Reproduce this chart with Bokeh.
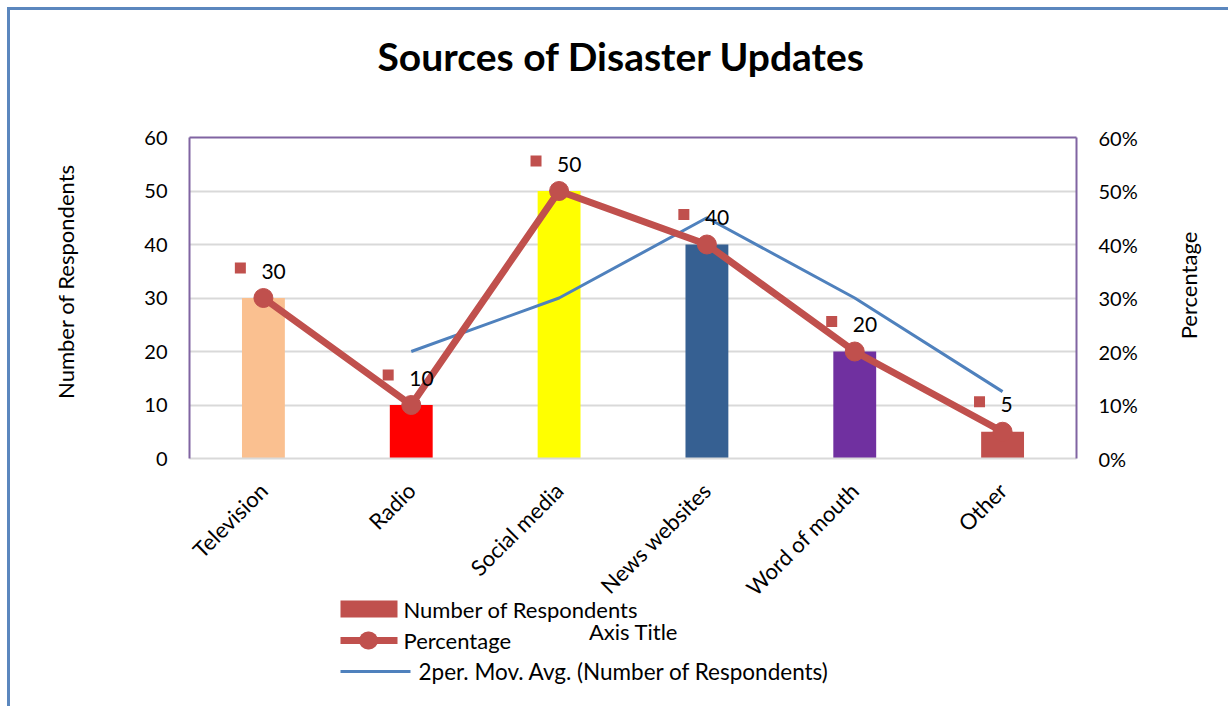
from math import pi
from bokeh.plotting import figure
from bokeh.models import (FactorRange, Range1d, LinearAxis, CategoricalAxis, NumeralTickFormatter,
                          FixedTicker, ColumnDataSource)
from bokeh.transform import dodge
from bokeh.core.properties import value
from bokeh.embed import file_html
from bokeh.resources import INLINE

# ---------------- data ----------------
title_text = "Sources of Disaster Updates"
categories = ["Television", "Radio", "Social media", "News websites", "Word of mouth", "Other"]
respondents = [30, 10, 50, 40, 20, 5]
percentage = [0.30, 0.10, 0.50, 0.40, 0.20, 0.05]
bar_colors = ["#FAC090", "#FF0000", "#FFFF00", "#366092", "#7030A0", "#C0504D"]
mov_avg_categories = ["Radio", "Social media", "News websites", "Word of mouth", "Other"]
mov_avg_values = [20, 30, 45, 30, 12.5]
left_ticks = [0, 10, 20, 30, 40, 50, 60]
right_ticks = [0.0, 0.1, 0.2, 0.3, 0.4, 0.5, 0.6]
left_axis_title = "Number of Respondents"
right_axis_title = "Percentage"
x_axis_title = "Axis Title"
legend_labels = ["Number of Respondents", "Percentage", "2per. Mov. Avg. (Number of Respondents)"]

FONT = "Lato"
RED = "#C0504D"
BLUE = "#4F81BD"
PURPLE = "#8064A2"
GRID = "#D9D9D9"

# frame geometry (window pixels) used to place texts that lie outside the plot area
FL, FR, FT, FB = 189, 1076, 137, 458
YMAX = 60
def dx(px):   # window x -> data x
    return (px - FL) / (FR - FL) * len(categories)
def dy(py):   # window y -> data y (left axis units)
    return (FB - py) / (FB - FT) * YMAX

src = ColumnDataSource(dict(cat=categories, count=respondents, pct=percentage,
                            color=bar_colors, label=[str(v) for v in respondents]))

p = figure(width=1221, height=699,
           x_range=FactorRange(*categories, range_padding=0),
           y_range=Range1d(0, YMAX),
           output_backend="svg", toolbar_location=None,
           min_border_left=FL - 10, min_border_right=1231 - FR,
           min_border_top=FT - 10, min_border_bottom=709 - FB)
p.styles = {"margin-left": "7px", "margin-top": "7px",
            "border-left": "3px solid #5B87BE", "border-top": "3px solid #5B87BE"}
p.extra_y_ranges = {"pct": Range1d(0, 0.6)}
p.outline_line_color = None
p.background_fill_color = "white"
p.border_fill_color = "white"
p.title.visible = False

xa = p.xaxis[0]
ya = p.yaxis[0]

p.xgrid.visible = False
p.ygrid.ticker = FixedTicker(ticks=left_ticks)
p.ygrid.grid_line_color = GRID
p.ygrid.grid_line_width = 2

ya.ticker = FixedTicker(ticks=left_ticks)
ya.axis_line_color = PURPLE
ya.axis_line_width = 2
ya.major_tick_line_color = None
ya.minor_tick_line_color = None
ya.major_label_standoff = 16
ya.major_label_text_font = FONT
ya.major_label_text_font_size = "20px"
ya.major_label_text_color = "black"

ra = LinearAxis(y_range_name="pct", ticker=FixedTicker(ticks=right_ticks),
                formatter=NumeralTickFormatter(format="0%"))
ra.axis_line_color = PURPLE
ra.axis_line_width = 2
ra.major_tick_line_color = None
ra.minor_tick_line_color = None
ra.major_label_standoff = 16
ra.major_label_text_font = FONT
ra.major_label_text_font_size = "20px"
ra.major_label_text_color = "black"
p.add_layout(ra, "right")

xa.axis_line_color = GRID
xa.axis_line_width = 2
xa.major_tick_line_color = None
xa.major_label_orientation = pi / 4
xa.major_label_standoff = 22
xa.major_label_text_font = FONT
xa.major_label_text_font_size = "22px"
xa.major_label_text_color = "black"

ta = CategoricalAxis()
ta.axis_line_color = PURPLE
ta.axis_line_width = 2
ta.major_tick_line_color = None
ta.major_label_text_color = None
ta.major_label_text_font_size = "1px"
ta.major_label_standoff = 0
p.add_layout(ta, "above")

# bars
p.vbar(x="cat", top="count", width=0.29, fill_color="color", line_color=None, source=src)

# moving average
p.line(mov_avg_categories, mov_avg_values, line_color=BLUE, line_width=3)

# percentage line
p.line(x="cat", y="pct", y_range_name="pct", source=src, line_color=RED, line_width=7)
p.scatter(x="cat", y="pct", y_range_name="pct", source=src, size=19,
          fill_color=RED, line_color=RED)

# data labels (legend key square + value)
p.scatter(x=dodge("cat", -0.156, range=p.x_range), y=dodge("pct", 0.056), y_range_name="pct",
          source=src, marker="square", size=11, fill_color=RED, line_color=None)
p.text(x="cat", y="pct", y_range_name="pct", source=src, text="label",
       x_offset=-2, y_offset=-27, text_align="left", text_baseline="middle",
       text_font=value(FONT), text_font_size="21px", text_color="black")

# texts outside the plot area (overlay level)
def txt(x, y, t, size="22px", angle=0, align="center", style="normal"):
    p.text(x=[x], y=[y], text=[t], angle=angle, text_align=align, text_baseline="middle",
           text_font=value(FONT), text_font_size=size, text_font_style=style,
           text_color="black", level="overlay")

txt(dx(621), dy(55), title_text, size="39px", style="bold")
txt(dx(65), dy(281), left_axis_title, angle=pi / 2)
txt(dx(1188), dy(285), right_axis_title, angle=pi / 2)
txt(dx(633), dy(631), x_axis_title)

# legend (drawn by hand, overlapping the axis title as in the reference)
p.quad(left=[dx(340)], right=[dx(397)], top=[dy(600)], bottom=[dy(617)],
       fill_color=RED, line_color=None, level="overlay")
txt(dx(403), dy(609), legend_labels[0], align="left")
p.line(x=[dx(340), dx(397)], y=[dy(640), dy(640)], line_color=RED, line_width=7, level="overlay")
p.line(x=[dx(367.5), dx(368.5)], y=[dy(640), dy(640)], line_color=RED, line_width=18,
       line_cap="round", level="overlay")
txt(dx(403), dy(640), legend_labels[1], align="left")
p.line(x=[dx(340), dx(410)], y=[dy(671), dy(671)], line_color=BLUE, line_width=3, level="overlay")
txt(dx(418), dy(671), legend_labels[2], align="left", size="22.5px")

open("out.html", "w").write(file_html(p, INLINE))
